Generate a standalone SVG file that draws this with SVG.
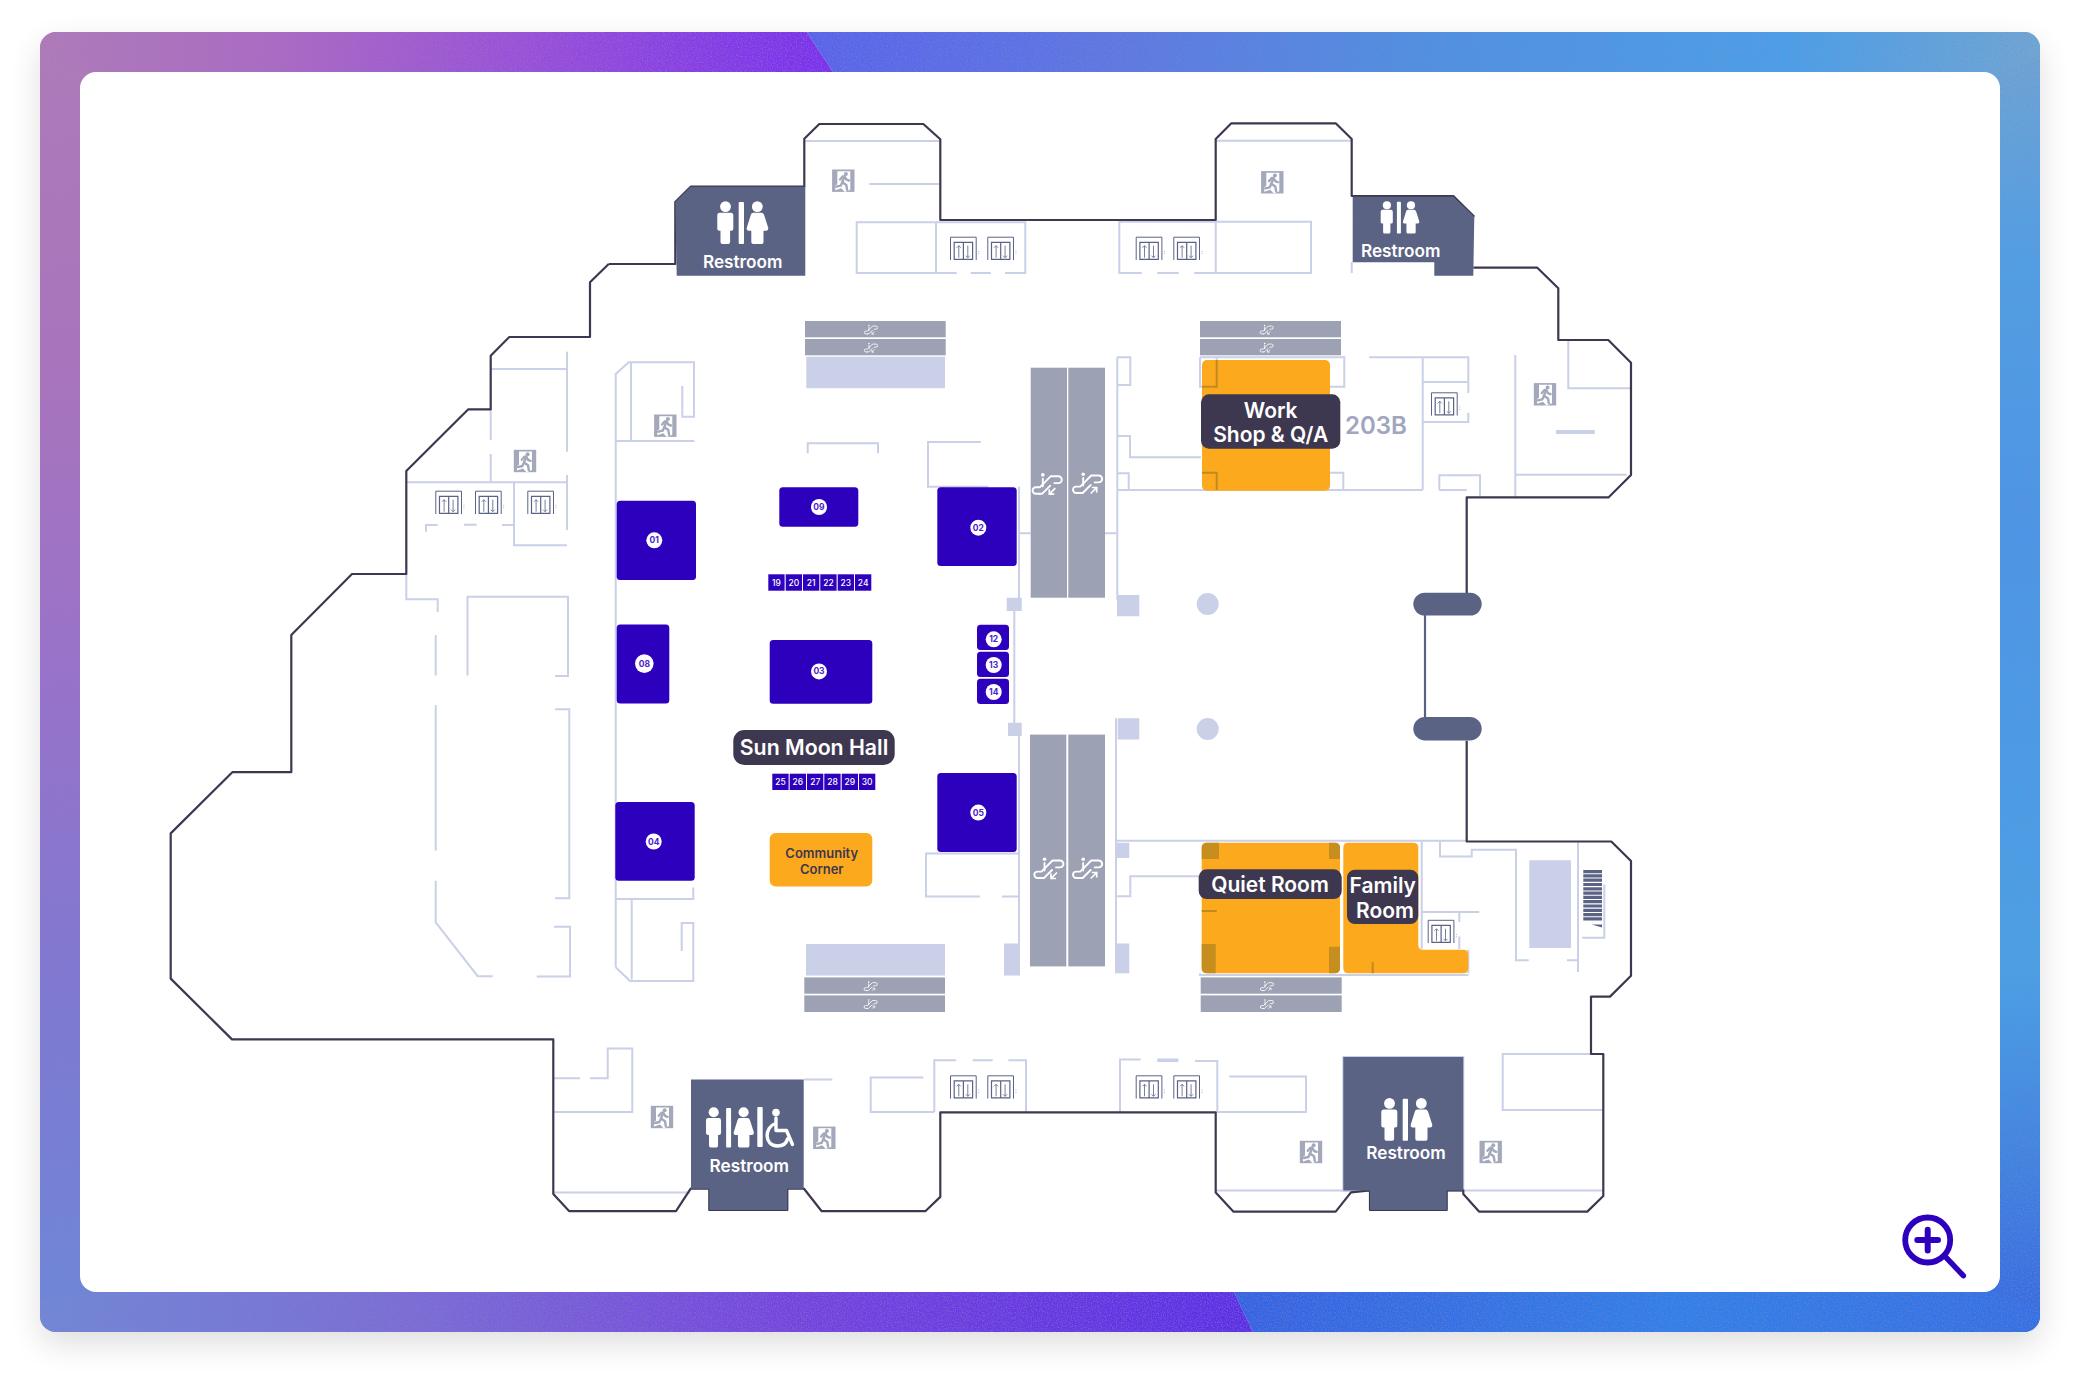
<svg xmlns="http://www.w3.org/2000/svg" xmlns:xlink="http://www.w3.org/1999/xlink" width="2080" height="1381" viewBox="0 0 2080 1381">
<style>
text{font-family:"Inter","Liberation Sans",sans-serif;text-anchor:middle}
.o{fill:none;stroke:#3e3750;stroke-width:2.2;stroke-linejoin:round}
.w{fill:none;stroke:#c9d0e8;stroke-width:2}
.lf{fill:#c9d0e8}
.g{fill:#9ca1b3}
.b{fill:#2d00be}
.r{fill:#5b6385}
.or{fill:#fda91d}
.dk{fill:#3e3750}
.dc{fill:#c68e1f}
.dl{fill:none;stroke:#c08a20;stroke-width:2}
.c{fill:#fff}
.n{fill:#4a20d0;font-size:8.5px;font-weight:700}
.t{fill:#fff;font-size:8.5px;font-weight:500}
.lb{fill:#fff;font-size:21px;font-weight:600}
.rt{fill:#fff;font-size:17.2px;font-weight:600}
</style>
<defs>
<filter id="sh" x="-5%" y="-5%" width="110%" height="112%"><feGaussianBlur stdDeviation="16"/></filter>
<filter id="nz" x="0" y="0" width="100%" height="100%"><feTurbulence type="fractalNoise" baseFrequency="0.8" numOctaves="2" seed="4"/><feColorMatrix values="0 0 0 0 0.25  0 0 0 0 0.22  0 0 0 0 0.5  1.4 0 0 0 -0.58"/></filter>
<clipPath id="fr"><rect x="40" y="32" width="2000" height="1300" rx="16"/></clipPath>
<linearGradient id="gtl" gradientUnits="userSpaceOnUse" x1="40" y1="0" x2="833" y2="0"><stop offset="0" stop-color="#b47ab8"/><stop offset=".3" stop-color="#ae68c4"/><stop offset=".62" stop-color="#9a4cdc"/><stop offset=".88" stop-color="#8436ec"/><stop offset="1" stop-color="#7a2cf2"/></linearGradient>
<linearGradient id="gtr" gradientUnits="userSpaceOnUse" x1="810" y1="0" x2="2040" y2="0"><stop offset="0" stop-color="#5562f0"/><stop offset=".25" stop-color="#5a78e6"/><stop offset=".5" stop-color="#4a92e4"/><stop offset=".8" stop-color="#46a2ec"/><stop offset="1" stop-color="#6daad6"/></linearGradient>
<linearGradient id="gbl" gradientUnits="userSpaceOnUse" x1="40" y1="0" x2="1250" y2="0"><stop offset="0" stop-color="#6e88d8"/><stop offset=".3" stop-color="#7a6cd8"/><stop offset=".62" stop-color="#7442e2"/><stop offset="1" stop-color="#5a2cea"/></linearGradient>
<linearGradient id="gbr" gradientUnits="userSpaceOnUse" x1="1235" y1="0" x2="2040" y2="0"><stop offset="0" stop-color="#3162e6"/><stop offset=".55" stop-color="#2c80ec"/><stop offset="1" stop-color="#3070e8"/></linearGradient>
<linearGradient id="gl" gradientUnits="userSpaceOnUse" x1="0" y1="32" x2="0" y2="1332"><stop offset="0" stop-color="#b47ab8"/><stop offset=".25" stop-color="#ae72bc"/><stop offset=".5" stop-color="#9a70cc"/><stop offset=".75" stop-color="#7c78d4"/><stop offset="1" stop-color="#6a88dc"/></linearGradient>
<linearGradient id="gr" gradientUnits="userSpaceOnUse" x1="0" y1="32" x2="0" y2="1332"><stop offset="0" stop-color="#6fa8d4"/><stop offset=".17" stop-color="#4ba2e8"/><stop offset=".38" stop-color="#4598ea"/><stop offset=".72" stop-color="#43a4ea"/><stop offset=".87" stop-color="#3a84e4"/><stop offset="1" stop-color="#3068e4"/></linearGradient>
<g id="mw">
<circle cx="8.2" cy="5.6" r="5.4"/><path d="M2.5 11.7H13.5Q16 11.7 16 14.2V28Q16 29.5 14 29.7H12.8V41Q12.8 43 11 43H5Q3.2 43 3.2 41V29.7H2Q0 29.5 0 28V14.2Q0 11.7 2.5 11.7Z"/>
<rect x="21.4" y="1" width="5.3" height="42" rx="1"/>
<circle cx="40" cy="5.6" r="5.4"/><path d="M36 11.7H44Q46 11.7 46.8 14L51 27Q51.3 29.5 49 29.7H46.2V41Q46.2 43 44.5 43H36Q34 43 34 41V29.7H31Q29 29.5 29.4 27L33.5 14Q34 11.7 36 11.7Z"/>
</g>
<g id="exit">
<rect x="-11.2" y="-11.2" width="22.4" height="22.4" fill="#a3a8bb"/>
<path d="M-6 -9.5H7V9L1.5 11.2L-2 7.5L-8 9.5V5L-6 3.5Z" fill="#fff"/>
<g fill="none" stroke="#a3a8bb" stroke-width="2.4" stroke-linecap="round" stroke-linejoin="round"><path d="M1.2 -4.2L-1 1.5L3 4.2L3.8 9"/><path d="M-1 1.5L-2.6 5L-7 6"/><path d="M-3.2 -1.2L-0.5 -4.3L1.2 -4.2L3.2 -1L5.6 -0.2"/></g>
<circle cx="2.6" cy="-6.8" r="2" fill="#a3a8bb"/>
</g>
<g id="lift">
<path d="M.5 23.3V.5H26.2V23.3" fill="none" stroke="#5b6385" stroke-width="1"/>
<path d="M4.2 22.6V5.6H22.6V22.6ZM13.4 5.6V22.6" fill="none" stroke="#5b6385" stroke-width="1.2"/>
<path d="M8.8 21V9M6.8 11L8.8 9L10.8 11M17.8 9V21M15.8 19L17.8 21L19.8 19" fill="none" stroke="#6a7090" stroke-width=".9"/>
<path d="M28.7 14.2V15M28.7 16.6V17.4" stroke="#9ca1b3" stroke-width="1"/>
</g>
<g id="escbase" fill="none" stroke="#fff" stroke-width="1.9" stroke-linejoin="round" stroke-linecap="round">
<path d="M-8 11H-11.5A3.2 3.2 0 0 1 -11.5 4.6H-7.5L3.5 -6.5H11A3.4 3.4 0 0 1 11 .4H7"/>
<path d="M-8 11H-5L3 3"/>
<path d="M-4.5 -4V3.5"/><circle cx="-4.5" cy="-7.8" r="1.8" fill="#fff" stroke="none"/>
</g>
<g id="escd"><use xlink:href="#escbase"/><path d="M8 5.5L2 11.5M2 6.5V11.5H7" fill="none" stroke="#fff" stroke-width="1.7"/></g>
<g id="escu"><use xlink:href="#escbase"/><path d="M3 11.5L9 5.5M4 5.5H9V10.5" fill="none" stroke="#fff" stroke-width="1.7"/></g>
</defs>

<g id="frame">
<rect x="40" y="44" width="2000" height="1300" rx="16" fill="#000" opacity=".13" filter="url(#sh)"/>
<g clip-path="url(#fr)">
<rect x="40" y="32" width="60" height="1300" fill="url(#gl)"/>
<rect x="1980" y="32" width="60" height="1300" fill="url(#gr)"/>
<path d="M40 32H807L833 72H80L40 56Z" fill="url(#gtl)"/>
<path d="M807 32H2040V56L2000 72H833Z" fill="url(#gtr)"/>
<path d="M80 1292H1234L1253 1332H40V1300Z" fill="url(#gbl)"/>
<path d="M1234 1292H2000L2040 1310V1332H1253Z" fill="url(#gbr)"/>
<rect x="40" y="32" width="2000" height="1300" filter="url(#nz)"/>
</g>
<rect x="80" y="72" width="1920" height="1220" rx="16" fill="#fff"/>
</g>

<g id="walls">
<path class="w" d="M567 351.7V451.7M490.7 369H567M490.7 409V440M490.7 454V482.3M406.3 482.3H567M567 475V530M514 482.3V545.3H567M426 531.7V525H437.7M464 524.7H476.7M502 525H514M406.3 574V599.3H437.7V612M435.7 635V675.5M435.7 705V850.5M435.7 880.7V922.3L477.7 976.2H492.7M467.5 675.5V596.7H568V675.9H555M555 709.3H569.3V898.2H555M554 926.8H570V976.6H536.7"/>
<path class="w" d="M615.7 967.2V374L628.7 362.3H694V416.7H682.3V386M631 362.3V441M615.7 441H694.3M615.7 967.2L630 981H693.3V923H681.7V951M631.7 899V979.4M615.7 899H693.3V887.6"/>
<path class="w" d="M805 141H939.3M869.3 184H939.3M936 222.3H856.7V273H956.7M936 222.3V273M936 222.3H1025.3V273H1005M990.7 273H970.7M1141.7 273H1119.3V221.7H1215.7V273H1194.3M1157.3 273H1178.7M1215.7 221.7H1311V273H1215.7M1215.7 140.7H1351.7M1351.7 262V273"/>
<path class="w" d="M807.7 453.3V443.3H878V453.3M980.7 442H928V486.7H988.3M1019 486.7V600M1014.3 611V723M1019 736V945M1019.3 533.3H1030.7M1105 533.3H1117.3M1117.3 357.3V600M1117.3 357.3H1130.3V385H1117.3M1117.3 436H1130V457.3H1201M1117.3 473.3H1128.7V490M1117.3 490H1422.7M1116 718.3V973.3M1116.7 840.7H1466M1116.7 896.2H1130.3V876.2H1200M1018.3 853.4H926V896.6H980M1002 896.6H1018.3"/>
<path class="w" d="M1200 357.3H1344.3V386.7H1330M1200 357.3V386.7H1216.7V357.3M1369.3 357.3H1468.3V393M1468.3 412.7V422H1422.7M1422.7 357V490M1422.7 382H1468.3M1200 490H1330M1330 472.7H1343.3V490M1439.3 490V475.3H1480V497.3M1439.3 490H1466.7M1515.3 355V497.3M1515.3 474.7H1626.7M1568.3 340.7V388.3H1630"/>
<path class="w" d="M1421.7 841.5V949M1422.7 912H1479.3M1459.3 912V922M1459.3 936.6V949M1468.3 949.7V973.3M1440 841.5V856.6H1471.7V849.7H1516V960.3H1528.7M1567 960.3H1578M1578 841.5V972M1604.3 884.4V937.8H1582.3M1602.7 1054H1502.7V1110H1602.7M1229.3 1076.6H1306V1112H1217.3V1061H1195M1178.3 1061H1157.3M1215.7 1190.4H1343.3M1463.3 1190.4H1602.7"/>
<path class="w" d="M934.3 1112V1060.2H956M972.7 1060.2H992.7M1008.3 1060.2H1026V1112M1120 1112V1059.4H1140.7M1157.3 1059.4H1178.3M923.3 1077.4H870.7V1112H934.3M804 1079.4H832.3M553.3 1078.2H580M590 1078.2H607.7V1048.4H632.3V1112H553.3M553.3 1192.4H690"/>
<path class="w" d="M1200 973.3V975H1468.3"/>
<rect class="w" x="1343.3" y="1057" width="120" height="134"/>
<path class="lf" d="M1006.7 597.7H1021.7V611H1006.7ZM1008 722.7H1021.7V736H1008ZM1004 943.5H1020V975.4H1004ZM1117 595H1139.3V616.3H1117ZM1117.7 718.3H1139.3V739.5H1117.7ZM1116.7 842.8H1129.3V857.9H1116.7ZM1116.7 943.5H1129.3V973.3H1116.7ZM806.3 356.7H945V388.3H806.3ZM806 944H945V975.4H806ZM1529.3 860.3H1571V948H1529.3ZM1556 430H1594.7V434H1556Z"/>
<circle class="lf" cx="1207.7" cy="604" r="11"/>
<circle class="lf" cx="1207.7" cy="729" r="11"/>
</g>

<g id="outline">
<path class="o" d="M608.7 264L590 282.3V337H509.3L490.7 355.7V409.3H468.3L406.3 471V574H352L291.3 635V772.2H232.3L170.7 833.4V978.6L232 1039.4H553.3V1194L569.3 1211.2H676L690.7 1188.7H709.3V1210H787.3V1188.7H804L821.7 1211.2H925.3L940.3 1196.9V1112.4H1215.7V1192.4L1233.3 1211.6H1335.7L1351 1192.4L1370 1190.4V1210H1446.7V1190.4H1463.3V1194L1479 1211.6H1587.3L1603.3 1196V1054H1591V996.6H1610L1631 975.8V861L1611.3 841.5H1466.7V740.8"/>
<path class="o" d="M1466.7 615V497.3H1608.7L1631 475V362.7L1608.3 340H1558.3V288.3L1537.3 267.7H1473.3"/>
<path class="o" d="M1474.3 216.7L1453.3 196H1351.7V139L1335.7 123.3H1231.3L1215.7 139V220H940.3V139.3L923.3 124H819.3L804.3 138.7V186.7H690.7L675.3 202V264H608.7"/>
<path d="M1425 612V720" stroke="#5b6385" stroke-width="2.2"/>
<rect class="r" x="1413.3" y="592.7" width="68.4" height="22.8" rx="11.4"/>
<rect class="r" x="1413.3" y="717" width="68.4" height="23.4" rx="11.7"/>
</g>

<g id="escalators">
<rect class="g" x="805" y="321" width="140.7" height="16.3"/><rect class="g" x="805" y="339" width="140.7" height="16.3"/>
<rect class="g" x="1200" y="321" width="141" height="16.3"/><rect class="g" x="1200" y="339" width="141" height="16.3"/>
<rect class="g" x="804.3" y="977.4" width="140.7" height="16.3"/><rect class="g" x="804.3" y="995.4" width="140.7" height="16.6"/>
<rect class="g" x="1200.7" y="977.4" width="141" height="16.3"/><rect class="g" x="1200.7" y="995.4" width="141" height="16.6"/>
<rect class="g" x="1030.7" y="367.7" width="36.3" height="230"/><rect class="g" x="1068.3" y="367.7" width="36.7" height="230"/>
<rect class="g" x="1030" y="734.6" width="36.3" height="231.8"/><rect class="g" x="1068.3" y="734.6" width="36.7" height="231.8"/>
<use xlink:href="#escd" transform="translate(1047.3 482.7)"/><use xlink:href="#escu" transform="translate(1087.7 482)"/>
<use xlink:href="#escd" transform="translate(1049 867)"/><use xlink:href="#escu" transform="translate(1087.7 867)"/>
<use xlink:href="#escd" transform="translate(871 329) scale(.45)"/><use xlink:href="#escd" transform="translate(871 347) scale(.45)"/>
<use xlink:href="#escd" transform="translate(1266.7 329) scale(.45)"/><use xlink:href="#escd" transform="translate(1266.7 347) scale(.45)"/>
<use xlink:href="#escu" transform="translate(870.7 985.6) scale(.45)"/><use xlink:href="#escu" transform="translate(870.7 1003.5) scale(.45)"/>
<use xlink:href="#escu" transform="translate(1267 985.6) scale(.45)"/><use xlink:href="#escu" transform="translate(1267 1003.5) scale(.45)"/>
</g>

<g id="stairs">
<path d="M1583.3 871.6H1602M1583.3 875.9H1602M1583.3 880.2H1602M1583.3 884.5H1602M1583.3 888.8H1602M1583.3 893.1H1602M1583.3 897.4H1602M1583.3 901.7H1602M1583.3 906H1602M1583.3 910.3H1602M1583.3 914.6H1602M1583.3 918.9H1602" stroke="#5b6385" stroke-width="3.2"/>
<path class="r" d="M1591.7 924.4H1602V927.6Z"/>
</g>

<g id="exits">
<use xlink:href="#exit" x="525" y="461"/><use xlink:href="#exit" x="665.3" y="425.7"/><use xlink:href="#exit" x="843.3" y="180.7"/>
<use xlink:href="#exit" x="1272.3" y="182.3"/><use xlink:href="#exit" x="1545" y="394.3"/><use xlink:href="#exit" x="662" y="1117"/>
<use xlink:href="#exit" x="824.3" y="1137.8"/><use xlink:href="#exit" x="1311" y="1152"/><use xlink:href="#exit" x="1490.7" y="1152"/>
</g>

<g id="lifts">
<use xlink:href="#lift" x="435.3" y="490.7"/><use xlink:href="#lift" x="475" y="490.7"/><use xlink:href="#lift" x="527.3" y="490.7"/>
<use xlink:href="#lift" x="950" y="236.7"/><use xlink:href="#lift" x="987.3" y="236.7"/><use xlink:href="#lift" x="1135.7" y="236.7"/><use xlink:href="#lift" x="1173.3" y="236.7"/>
<use xlink:href="#lift" x="1431" y="392.3"/>
<use xlink:href="#lift" x="950" y="1075.3"/><use xlink:href="#lift" x="987.3" y="1075.3"/><use xlink:href="#lift" x="1135.7" y="1075.3"/><use xlink:href="#lift" x="1173.3" y="1075.3"/>
<use xlink:href="#lift" x="1427.7" y="919.8"/>
</g>

<g id="restroom-1">
<path class="r" d="M675.3 202L690.7 186.7H805.3V275.7H676.7Z"/>
<use xlink:href="#mw" class="c" x="717.3" y="201"/>
<text class="rt" x="742.7" y="268.3">Restroom</text>
</g>
<g id="restroom-2">
<path class="r" d="M1352.7 196.7H1453.3L1474.3 216.7L1473.3 275.7H1434.3V262.3H1352.7Z"/>
<use xlink:href="#mw" class="c" transform="translate(1380.7 201) scale(.757)"/>
<text class="rt" x="1400.7" y="257.3">Restroom</text>
</g>
<g id="restroom-3">
<path class="r" d="M691 1079.4H803.7V1188.7H787.3V1210H709.3V1188.7H691Z"/>
<use xlink:href="#mw" class="c" transform="translate(706 1107) scale(.94)"/>
<rect class="c" x="757.3" y="1107" width="5.4" height="40" rx="1"/>
<circle class="c" cx="776" cy="1112.5" r="3.8"/>
<path d="M776 1118V1130.5H786.5L792.5 1144.5M775.5 1123.5C764.5 1127 763.5 1145.5 777.5 1146C783 1146 786.5 1143 787.5 1139" fill="none" stroke="#fff" stroke-width="3.4" stroke-linecap="round" stroke-linejoin="round"/>
<text class="rt" x="749.3" y="1172.3">Restroom</text>
</g>
<g id="restroom-4">
<path class="r" d="M1343.3 1057H1463.3V1190.4H1446.7V1210H1370V1190.4H1343.3Z"/>
<use xlink:href="#mw" class="c" x="1381.3" y="1097.8"/>
<text class="rt" x="1406" y="1159">Restroom</text>
</g>

<g id="work-shop">
<rect class="or" x="1202" y="360" width="128" height="130.7" rx="5"/>
<path class="dl" d="M1216.7 360V386.7H1202M1202 472.7H1216.7V490"/>
<rect class="dk" x="1201" y="394.3" width="139.3" height="54.4" rx="8"/>
<text class="lb" x="1270.7" y="418">Work</text>
<text class="lb" x="1270.7" y="442.3">Shop &amp; Q/A</text>
</g>
<text id="label-203B" x="1376" y="433.8" fill="#a0a6bd" font-size="24" font-weight="600">203B</text>

<g id="quiet-room">
<rect class="or" x="1201.7" y="842.8" width="138.3" height="130.5" rx="5"/>
<path class="dc" d="M1201.7 847.8Q1201.7 842.8 1206.7 842.8H1219V859H1201.7ZM1329 842.8H1335Q1340 842.8 1340 847.8V859H1329ZM1201.7 944H1215.7V973.3H1206.7Q1201.7 973.3 1201.7 968.3ZM1329 946.8H1340V968.3Q1340 973.3 1335 973.3H1329Z"/>
<path class="dl" d="M1201.7 911H1216.7"/>
<rect class="dk" x="1198.7" y="869.3" width="143" height="29.7" rx="8"/>
<text class="lb" x="1270" y="892.2">Quiet Room</text>
</g>

<g id="family-room">
<path class="or" d="M1348.3 842.8H1413.3Q1418.3 842.8 1418.3 847.8V944.7Q1418.3 949.7 1423.3 949.7H1463.3Q1468.3 949.7 1468.3 954.7V968.3Q1468.3 973.3 1463.3 973.3H1348.3Q1343.3 973.3 1343.3 968.3V847.8Q1343.3 842.8 1348.3 842.8Z"/>
<path class="dl" d="M1372.7 962V973.3"/>
<rect class="dk" x="1347" y="869.7" width="71.3" height="54.3" rx="8"/>
<text class="lb" x="1382.7" y="893.3">Family</text>
<text class="lb" x="1385" y="917.8">Room</text>
</g>

<g id="booth-01"><rect class="b" x="616.7" y="500.7" width="79.3" height="79.3" rx="3.5"/><circle class="c" cx="654.3" cy="540.3" r="8"/><text class="n" x="654.3" y="543.3">01</text></g>
<g id="booth-09"><rect class="b" x="779.3" y="487.3" width="79" height="39.4" rx="3.5"/><circle class="c" cx="819" cy="507" r="8"/><text class="n" x="819" y="510">09</text></g>
<g id="booth-02"><rect class="b" x="937.3" y="487.3" width="79.4" height="78.7" rx="3.5"/><circle class="c" cx="978.3" cy="527.7" r="8"/><text class="n" x="978.3" y="530.7">02</text></g>
<g id="booth-08"><rect class="b" x="616.7" y="624.5" width="52.6" height="79.1" rx="3.5"/><circle class="c" cx="644.3" cy="663.6" r="9.3"/><text class="n" x="644.3" y="666.6">08</text></g>
<g id="booth-03"><rect class="b" x="769.7" y="640" width="102.6" height="63.7" rx="3.5"/><circle class="c" cx="819" cy="671.4" r="8"/><text class="n" x="819" y="674.4">03</text></g>
<g id="booth-04"><rect class="b" x="615.3" y="802" width="79.4" height="78.7" rx="3.5"/><circle class="c" cx="653.7" cy="841.5" r="8"/><text class="n" x="653.7" y="844.5">04</text></g>
<g id="booth-05"><rect class="b" x="937.3" y="773" width="79.4" height="79" rx="3.5"/><circle class="c" cx="978.3" cy="812.6" r="8"/><text class="n" x="978.3" y="815.6">05</text></g>
<g id="booth-12"><rect class="b" x="977" y="624.7" width="32" height="25.3" rx="3.5"/><circle class="c" cx="993.7" cy="639.3" r="8"/><text class="n" x="993.7" y="642.3">12</text></g>
<g id="booth-13"><rect class="b" x="977" y="651.7" width="32" height="25.3" rx="3.5"/><circle class="c" cx="993.7" cy="665" r="8"/><text class="n" x="993.7" y="668">13</text></g>
<g id="booth-14"><rect class="b" x="977" y="678.7" width="32" height="25.3" rx="3.5"/><circle class="c" cx="993.7" cy="692" r="8"/><text class="n" x="993.7" y="695">14</text></g>

<g id="booths-19-24">
<rect class="b" x="768.3" y="574.3" width="16.3" height="16.4"/><text class="t" x="776.5" y="585.6">19</text>
<rect class="b" x="785.7" y="574.3" width="16.3" height="16.4"/><text class="t" x="793.8" y="585.6">20</text>
<rect class="b" x="803" y="574.3" width="16.3" height="16.4"/><text class="t" x="811.2" y="585.6">21</text>
<rect class="b" x="820.3" y="574.3" width="16.3" height="16.4"/><text class="t" x="828.5" y="585.6">22</text>
<rect class="b" x="837.7" y="574.3" width="16.3" height="16.4"/><text class="t" x="845.8" y="585.6">23</text>
<rect class="b" x="855" y="574.3" width="16.3" height="16.4"/><text class="t" x="863.2" y="585.6">24</text>
</g>
<g id="booths-25-30">
<rect class="b" x="772.3" y="773.7" width="16.3" height="16.3"/><text class="t" x="780.5" y="785">25</text>
<rect class="b" x="789.7" y="773.7" width="16.3" height="16.3"/><text class="t" x="797.8" y="785">26</text>
<rect class="b" x="807" y="773.7" width="16.3" height="16.3"/><text class="t" x="815.2" y="785">27</text>
<rect class="b" x="824.3" y="773.7" width="16.3" height="16.3"/><text class="t" x="832.5" y="785">28</text>
<rect class="b" x="841.7" y="773.7" width="16.3" height="16.3"/><text class="t" x="849.8" y="785">29</text>
<rect class="b" x="859" y="773.7" width="16.3" height="16.3"/><text class="t" x="867.2" y="785">30</text>
</g>

<g id="sun-moon-hall">
<rect class="dk" x="733.3" y="730" width="161.4" height="35" rx="11"/>
<text class="lb" x="814" y="754.7" style="font-size:21.3px">Sun Moon Hall</text>
</g>
<g id="community-corner">
<rect class="or" x="769.7" y="833" width="102.6" height="53.4" rx="6"/>
<text x="821.7" y="857.5" fill="#3e3750" font-size="13" font-weight="600">Community</text>
<text x="821.7" y="873.5" fill="#3e3750" font-size="13" font-weight="600">Corner</text>
</g>

<g id="zoom-icon" fill="none" stroke="#2d00be" stroke-linecap="round">
<circle cx="1927.7" cy="1240" r="22.5" stroke-width="5.8"/>
<path d="M1917.3 1240H1938M1927.7 1229.7V1250.4" stroke-width="6"/>
<path d="M1946 1257.3L1963.3 1275.7" stroke-width="5.5"/>
</g>
</svg>
